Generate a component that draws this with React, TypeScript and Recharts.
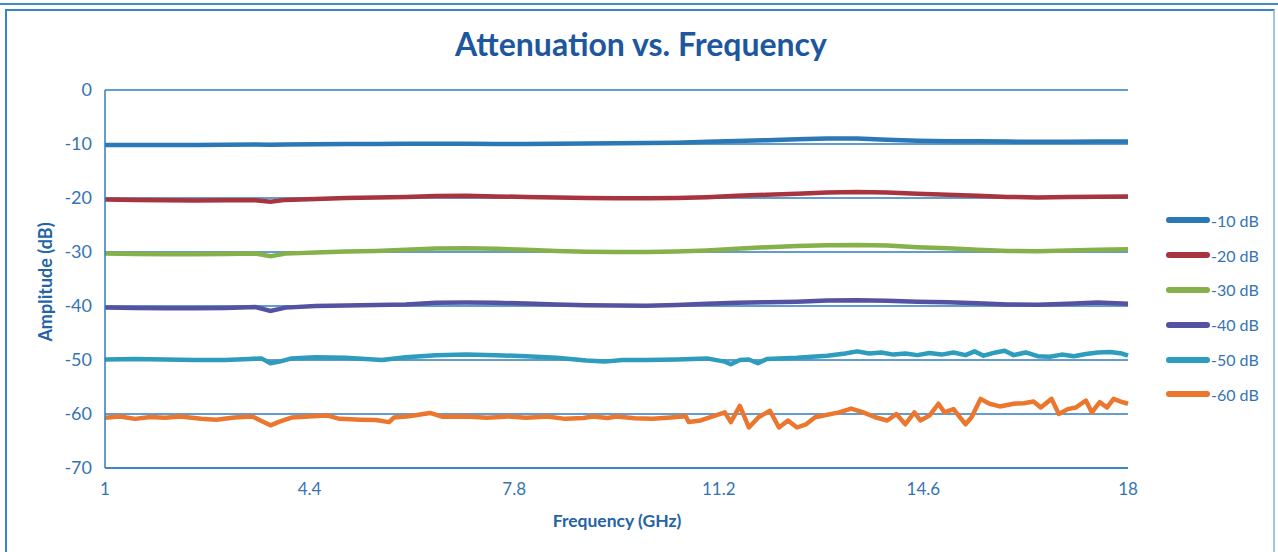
import React from 'react';
import { LineChart, Line, XAxis, YAxis, CartesianGrid } from 'recharts';

// shared frequency grid (GHz) for the smooth traces
const FREQ = [1, 1.5, 2, 2.5, 3, 3.5, 3.75, 4, 4.5, 5, 5.5, 6, 6.5, 7, 7.5, 8, 8.5, 9, 9.5, 10, 10.5, 11, 11.5, 12, 12.5, 13, 13.5, 14, 14.5, 15, 15.5, 16, 16.5, 17, 17.5, 18];

const ATT_10 = [-10.2, -10.2, -10.2, -10.2, -10.15, -10.1, -10.12, -10.1, -10.05, -10.0, -10.0, -9.95, -9.95, -9.95, -10.0, -10.0, -9.95, -9.9, -9.85, -9.8, -9.75, -9.6, -9.45, -9.3, -9.1, -9.0, -9.0, -9.2, -9.4, -9.5, -9.5, -9.55, -9.6, -9.6, -9.55, -9.55];
const ATT_20 = [-20.3, -20.35, -20.4, -20.45, -20.4, -20.4, -20.7, -20.35, -20.2, -20.0, -19.9, -19.8, -19.65, -19.6, -19.7, -19.8, -19.9, -20.0, -20.05, -20.05, -20.0, -19.85, -19.6, -19.4, -19.2, -19.0, -18.9, -19.0, -19.2, -19.4, -19.6, -19.8, -19.9, -19.8, -19.75, -19.7];
const ATT_30 = [-30.3, -30.35, -30.4, -30.4, -30.35, -30.3, -30.8, -30.3, -30.1, -29.9, -29.8, -29.6, -29.35, -29.3, -29.4, -29.6, -29.8, -29.95, -30.0, -30.0, -29.9, -29.7, -29.4, -29.1, -28.9, -28.75, -28.7, -28.8, -29.1, -29.3, -29.6, -29.8, -29.85, -29.7, -29.6, -29.5];
const ATT_40 = [-40.3, -40.35, -40.4, -40.4, -40.35, -40.2, -40.9, -40.3, -40.0, -39.9, -39.8, -39.7, -39.4, -39.35, -39.4, -39.55, -39.7, -39.85, -39.9, -39.95, -39.8, -39.6, -39.4, -39.3, -39.2, -39.0, -38.95, -39.05, -39.2, -39.3, -39.5, -39.7, -39.75, -39.6, -39.35, -39.6];

// -50 dB trace gets noisier above ~11 GHz
const FREQ_50 = [1, 1.5, 2, 2.5, 3, 3.4, 3.6, 3.75, 3.9, 4.1, 4.5, 5, 5.6, 6, 6.5, 7, 7.5, 8, 8.5, 9, 9.3, 9.6, 10, 10.5, 11, 11.3, 11.4, 11.55, 11.7, 11.85, 12, 12.5, 13, 13.3, 13.5, 13.7, 13.9, 14.1, 14.3, 14.5, 14.7, 14.9, 15.1, 15.3, 15.45, 15.6, 15.8, 15.95, 16.1, 16.3, 16.5, 16.7, 16.9, 17.1, 17.3, 17.5, 17.7, 17.9, 18];
const ATT_50 = [-49.9, -49.8, -49.9, -50.0, -50.0, -49.8, -49.7, -50.6, -50.3, -49.7, -49.5, -49.6, -50.0, -49.5, -49.1, -49.0, -49.1, -49.3, -49.6, -50.1, -50.3, -50.0, -50.0, -49.9, -49.7, -50.3, -50.8, -50.0, -49.9, -50.6, -49.8, -49.6, -49.2, -48.8, -48.4, -48.8, -48.6, -49.0, -48.8, -49.1, -48.7, -49.0, -48.6, -49.1, -48.4, -49.2, -48.6, -48.3, -49.1, -48.6, -49.3, -49.4, -49.0, -49.3, -48.9, -48.6, -48.5, -48.8, -49.2];

// -60 dB trace (noise floor creeping in)
const FREQ_60 = [1.0, 1.25, 1.5, 1.75, 2.0, 2.25, 2.6, 2.85, 3.15, 3.45, 3.6, 3.75, 3.9, 4.1, 4.45, 4.7, 4.9, 5.25, 5.5, 5.72, 5.8, 6.05, 6.4, 6.6, 7.0, 7.35, 7.7, 8.0, 8.35, 8.65, 8.95, 9.1, 9.35, 9.5, 9.8, 10.1, 10.4, 10.65, 10.7, 10.9, 11.3, 11.4, 11.55, 11.7, 11.86, 12.05, 12.2, 12.35, 12.5, 12.65, 12.8, 13.2, 13.4, 13.6, 13.8, 14.0, 14.15, 14.3, 14.45, 14.55, 14.7, 14.85, 14.95, 15.1, 15.3, 15.4, 15.55, 15.7, 15.87, 16.1, 16.27, 16.43, 16.55, 16.73, 16.85, 17.0, 17.13, 17.3, 17.4, 17.53, 17.65, 17.76, 17.88, 18.0];
const ATT_60 = [-60.7, -60.45, -60.9, -60.55, -60.7, -60.45, -60.9, -61.05, -60.65, -60.45, -61.3, -62.1, -61.4, -60.65, -60.4, -60.3, -60.9, -61.05, -61.1, -61.5, -60.65, -60.4, -59.8, -60.5, -60.45, -60.7, -60.45, -60.7, -60.45, -60.9, -60.75, -60.45, -60.75, -60.45, -60.8, -60.9, -60.65, -60.4, -61.5, -61.2, -59.7, -61.5, -58.5, -62.5, -60.6, -59.4, -62.5, -61.2, -62.5, -61.9, -60.6, -59.7, -59.0, -59.7, -60.6, -61.2, -60.0, -61.9, -59.7, -61.2, -60.3, -58.1, -59.7, -59.1, -61.9, -60.6, -57.2, -58.1, -58.6, -58.1, -58.0, -57.7, -58.8, -57.2, -60.0, -59.1, -58.8, -57.5, -59.7, -57.8, -58.8, -57.2, -57.7, -58.1];

const X_TICKS = [1, 4.4, 7.8, 11.2, 14.6, 18];
const Y_TICKS = [0, -10, -20, -30, -40, -50, -60, -70];

const SERIES = [
  { key: 'a10', name: '-10 dB', color: '#2a78b5' },
  { key: 'a20', name: '-20 dB', color: '#a8343f' },
  { key: 'a30', name: '-30 dB', color: '#86b04a' },
  { key: 'a40', name: '-40 dB', color: '#5652a2' },
  { key: 'a50', name: '-50 dB', color: '#2e9cbc' },
  { key: 'a60', name: '-60 dB', color: '#eb772f' },
];

const coarseData = FREQ.map((f, i) => ({ f, a10: ATT_10[i], a20: ATT_20[i], a30: ATT_30[i], a40: ATT_40[i] }));
const data50 = FREQ_50.map((f, i) => ({ f, a50: ATT_50[i] }));
const data60 = FREQ_60.map((f, i) => ({ f, a60: ATT_60[i] }));

const FONT = 'Lato, "Open Sans", sans-serif';
const GRID = '#2f7cc0';
const TEXT = '#3574b3';

const App: React.FC = () => {
  return (
    <div style={{ position: 'absolute', left: 0, top: 0, width: 1278, height: 552, background: '#fff', overflow: 'hidden', fontFamily: FONT }}>
      {/* frame around the chart */}
      <div style={{ position: 'absolute', left: 0, top: 3, width: 1278, height: 2, background: '#3d8fca' }} />
      <div style={{ position: 'absolute', left: 5, top: 9, width: 1266, height: 560, border: '2px solid #3a86c4', borderRightColor: '#9cc8e6' }} />

      <div style={{ position: 'absolute', left: 0, width: 1282, top: 24, textAlign: 'center', fontSize: 32, fontWeight: 700, color: '#1d579e' }}>
        Attenuation vs. Frequency
      </div>

      <LineChart width={1278} height={552} data={coarseData} margin={{ top: 90, right: 150, bottom: 54, left: 45 }} style={{ position: 'absolute', left: 0, top: 0 }}>
        <CartesianGrid vertical={false} stroke={GRID} strokeWidth={1.5} />
        <XAxis
          dataKey="f"
          type="number"
          domain={[1, 18]}
          ticks={X_TICKS}
          allowDuplicatedCategory={false}
          axisLine={{ stroke: GRID, strokeWidth: 1.5 }}
          tickLine={false}
          tickMargin={9}
          height={30}
          tick={{ fill: TEXT, fontSize: 17, fontFamily: FONT }}
        />
        <YAxis
          type="number"
          domain={[-70, 0]}
          ticks={Y_TICKS}
          axisLine={{ stroke: GRID, strokeWidth: 1.5 }}
          tickLine={false}
          tickMargin={7}
          width={60}
          tick={{ fill: TEXT, fontSize: 18, fontFamily: FONT }}
        />
        <Line dataKey="a10" stroke={SERIES[0].color} strokeWidth={4.5} dot={false} isAnimationActive={false} />
        <Line dataKey="a20" stroke={SERIES[1].color} strokeWidth={4.5} dot={false} isAnimationActive={false} />
        <Line dataKey="a30" stroke={SERIES[2].color} strokeWidth={4.5} dot={false} isAnimationActive={false} />
        <Line dataKey="a40" stroke={SERIES[3].color} strokeWidth={4.5} dot={false} isAnimationActive={false} />
        <Line data={data50} dataKey="a50" stroke={SERIES[4].color} strokeWidth={4.5} dot={false} isAnimationActive={false} strokeLinejoin="round" />
        <Line data={data60} dataKey="a60" stroke={SERIES[5].color} strokeWidth={4.5} dot={false} isAnimationActive={false} strokeLinejoin="round" />
      </LineChart>

      <div style={{ position: 'absolute', left: 0, width: 1234, top: 510, textAlign: 'center', fontSize: 17.5, fontWeight: 700, color: '#2563a8' }}>
        Frequency (GHz)
      </div>
      <div style={{ position: 'absolute', left: 45, top: 283, width: 0, height: 0 }}>
        <div style={{ position: 'absolute', left: -100, top: -12, width: 200, textAlign: 'center', fontSize: 18, fontWeight: 700, color: '#2563a8', transform: 'rotate(-90deg)', whiteSpace: 'nowrap' }}>
          Amplitude (dB)
        </div>
      </div>

      {/* legend */}
      <div style={{ position: 'absolute', left: 1166, top: 203 }}>
        {SERIES.map(s => (
          <div key={s.key} style={{ display: 'flex', alignItems: 'center', height: 34.8 }}>
            <div style={{ width: 44, height: 6, borderRadius: 3, background: s.color }} />
            <span style={{ fontSize: 16, color: TEXT, marginLeft: 1 }}>{s.name}</span>
          </div>
        ))}
      </div>
    </div>
  );
};

export default App;
